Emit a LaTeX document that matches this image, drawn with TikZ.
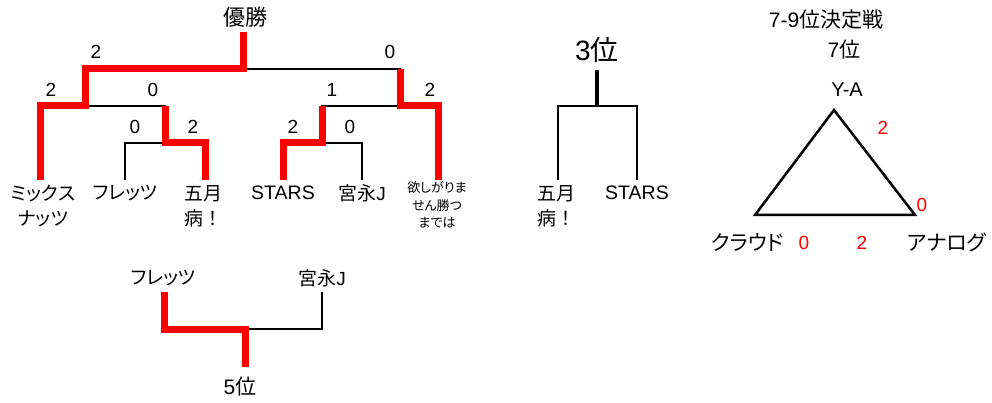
\documentclass[tikz,border=0pt]{standalone}
\usepackage{fontspec}
\setmainfont{Liberation Sans}
\newfontfamily\jp{Noto Sans CJK JP}[RawFeature=+palt]
\newfontfamily\jpw{Noto Sans CJK JP}

\tikzset{
  win/.style={draw=red, line width=7pt, line join=miter},
  lose/.style={draw=black, line width=2.5pt, line join=miter},
  team/.style={font=\jp\fontsize{19}{25}\selectfont, align=center, inner sep=0pt},
  wide/.style={font=\jpw\fontsize{19}{25}\selectfont, align=center, inner sep=0pt},
  latin/.style={font=\fontsize{19.5}{25}\selectfont, inner sep=0pt},
  small/.style={font=\jp\fontsize{13}{17.5}\selectfont, align=center, inner sep=0pt},
  score/.style={font=\fontsize{19}{21}\selectfont, inner sep=0pt},
  redscore/.style={score, text=red},
  head/.style={font=\jp\fontsize{21}{23}\selectfont, inner sep=0pt}
}

\begin{document}
\begin{tikzpicture}[x=1pt, y=-1pt]
  \useasboundingbox (0,0) rectangle (992,403);

  % main bracket
  \node[head, font=\jp\fontsize{22}{24}\selectfont] (champ) at (245,17) {優勝};
  \coordinate (top) at (243,32);
  \coordinate (fin) at (243,69);
  \coordinate (sl) at (85,106);
  \coordinate (sr) at (400,106);
  \coordinate (q1) at (165,143);
  \coordinate (q2) at (322,143);
  \coordinate (mixT) at (40,180);
  \coordinate (freT) at (125,180);
  \coordinate (satT) at (205,180);
  \coordinate (staT) at (283,180);
  \coordinate (miyaT) at (362,180);
  \coordinate (hoshiT) at (438,180);

  \node[team] (mix) at (43,206) {ミックス\\ナッツ};
  \node[team] (fre) at (125,193) {フレッツ};
  \node[wide] (sat) at (203,206) {五月\\病！};
  \node[latin] (sta) at (283,193) {STARS};
  \node[team] (miya) at (362,193) {宮永\rmfamily J};
  \node[small] (hoshi) at (437,205) {欲しがりま\\せん勝つ\\までは};

  \draw[lose] (fin) -| (sr);
  \draw[lose] (sl) -| (q1);
  \draw[lose] (freT) |- (q1);
  \draw[lose] (sr) -| (q2);
  \draw[lose] (q2) -| (miyaT);

  \draw[win] (mixT) |- (sl) |- (fin) -- (top);
  \draw[win] (satT) |- (q1) -- (q1 |- sl);
  \draw[win] (staT) |- (q2) -- (q2 |- sr);
  \draw[win] (hoshiT) |- (sr) -- (sr |- fin);

  \node[score] (s1) at (96,52) {2};
  \node[score] (s2) at (390,52) {0};
  \node[score] (s3) at (51,90) {2};
  \node[score] (s4) at (153,90) {0};
  \node[score] (s5) at (332,90) {1};
  \node[score] (s6) at (430,90) {2};
  \node[score] (s7) at (135,127) {0};
  \node[score] (s8) at (193,127) {2};
  \node[score] (s9) at (293,127) {2};
  \node[score] (s10) at (350,127) {0};

  % 3rd place
  \node[font=\fontsize{28}{30}\selectfont, inner sep=0pt] (third) at (597,50) {3{\jp 位}};
  \coordinate (tt) at (597,70);
  \coordinate (tj) at (597,106);
  \coordinate (sat3T) at (558,180);
  \coordinate (sta3T) at (637,180);
  \node[wide] (sat3) at (556,206) {五月\\病！};
  \node[latin] (sta3) at (637,193) {STARS};
  \draw[lose, line width=3.5pt] (tt) -- (tj);
  \draw[lose] (sat3T) |- (tj) -| (sta3T);

  % 5th place
  \coordinate (fre5T) at (164,292);
  \coordinate (miya5T) at (322,292);
  \coordinate (j5) at (245,329);
  \coordinate (fifthT) at (245,367);
  \node[team] (fre5) at (163,278) {フレッツ};
  \node[team] (miya5) at (322,278) {宮永\rmfamily J};
  \node[head] (fifth) at (240,387) {\rmfamily 5\jp 位};
  \draw[lose] (j5) -| (miya5T);
  \draw[win] (fre5T) |- (j5) -- (fifthT);

  % 7-9
  \node[head] (ttl) at (826,20) {\rmfamily 7-9\jp 位決定戦};
  \node[head] (seventh) at (844,50) {\rmfamily 7\jp 位};
  \node[latin, font=\fontsize{20}{22}\selectfont] (ya) at (847,90) {Y-A};
  \node[team, font=\jp\fontsize{21}{23}\selectfont] (cl) at (747,242) {クラウド};
  \node[team, font=\jp\fontsize{21}{23}\selectfont] (an) at (947,242) {アナログ};
  \coordinate (yaT) at (834,110);
  \coordinate (clT) at (755,215);
  \coordinate (anT) at (915,215);
  \draw[lose] (yaT) -- (anT) -- (clT) -- cycle;
  \node[redscore] (r1) at (883,128) {2};
  \node[redscore] (r2) at (922,205) {0};
  \node[redscore] (r3) at (804,243) {0};
  \node[redscore] (r4) at (862,243) {2};
\end{tikzpicture}
\end{document}
